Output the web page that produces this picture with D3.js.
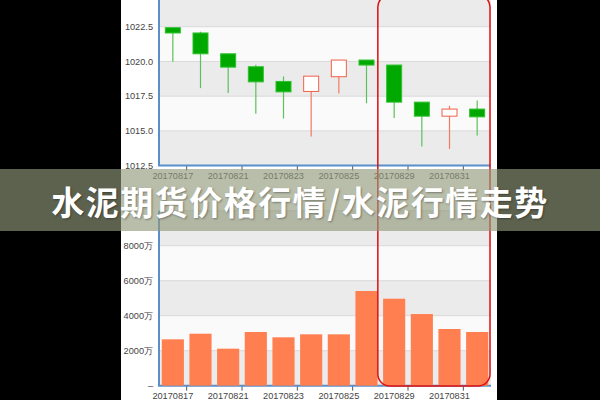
<!DOCTYPE html>
<html><head><meta charset="utf-8">
<script src="https://cdn.jsdelivr.net/npm/d3@7/dist/d3.min.js"></script>
<style>html,body{margin:0;padding:0;background:#000;}svg{display:block;}</style>
</head><body>
<svg id="c" width="600" height="400"></svg>
<script>
const dates = ["20170817","20170818","20170821","20170822","20170823","20170824","20170825","20170828","20170829","20170830","20170831","20170901"];
const opens  = [1022.43,1022.05,1020.55,1019.62,1018.56,1017.84,1018.90,1020.10,1019.74,1017.07,1016.06,1016.57];
const closes = [1022.05,1020.55,1019.59,1018.53,1017.81,1018.94,1020.10,1019.74,1017.07,1016.06,1016.57,1016.01];
const highs  = [1022.45,1022.14,1020.55,1019.76,1018.92,1018.94,1020.10,1020.10,1019.74,1017.07,1016.80,1017.19];
const lows   = [1019.98,1018.08,1017.72,1016.23,1015.89,1014.59,1017.69,1016.99,1015.92,1013.87,1013.70,1014.66];
const volumes = [2650,2970,2115,3070,2765,2935,2935,5410,4970,4095,3240,3070]; // 万
const priceTicks = [1012.5,1015.0,1017.5,1020.0,1022.5,1025.0];
const volTicks = [0,2000,4000,6000,8000,10000];
const title = "水泥期货价格行情/水泥行情走势";

const svg = d3.select("#c");
svg.append("rect").attr("width",600).attr("height",400).attr("fill","#000");
svg.append("rect").attr("x",121).attr("y",0).attr("width",376).attr("height",400).attr("fill","#fff");

const x = d3.scaleBand().domain(dates).range([159,491]).padding(0);
const yP = d3.scaleLinear().domain([1012.5,1025]).range([165.6,-8]);
const yV = d3.scaleLinear().domain([0,10000]).range([385.7,210.7]);
const font = "'Liberation Sans', Arial, sans-serif";

function panel(y, ticks, fmt, axisY) {
  const g = svg.append("g");
  for (let i = 0; i < ticks.length-1; i++) {
    g.append("rect").attr("x",159).attr("width",332)
      .attr("y",y(ticks[i+1])).attr("height",y(ticks[i])-y(ticks[i+1]))
      .attr("fill", i%2===0 ? "#ebebeb" : "#fafafa");
  }
  g.selectAll(".gl").data(ticks.slice(1)).join("line")
    .attr("x1",159).attr("x2",491).attr("y1",d=>y(d)).attr("y2",d=>y(d))
    .attr("stroke","#d9d9d9").attr("stroke-width",1);
  g.selectAll(".yl").data(ticks.slice(0,-1)).join("text")
    .attr("x",153).attr("y",d=>y(d)).attr("dy","0.35em")
    .attr("text-anchor","end").attr("font-family",font).attr("font-size",9.2).attr("fill","#444")
    .text(fmt);
  const ax = d3.axisBottom(x).tickSize(0).tickFormat((d,i)=> i%2===0 ? d : "");
  const axg = g.append("g").attr("transform",`translate(0,${axisY})`).call(ax);
  axg.select(".domain").remove();
  axg.selectAll("text").attr("font-family",font).attr("font-size",9.2).attr("fill","#444").attr("dy","1.1em");
  const tb = dates.filter((d,i)=>i%2===1).map(d=>x(d));
  g.selectAll(".tk").data(tb).join("line")
    .attr("x1",d=>d).attr("x2",d=>d).attr("y1",axisY).attr("y2",axisY+5)
    .attr("stroke","#555").attr("stroke-width",1);
  g.append("line").attr("x1",158).attr("x2",491).attr("y1",axisY).attr("y2",axisY).attr("stroke","#5b8fc9").attr("stroke-width",2);
  g.append("line").attr("x1",159).attr("x2",159).attr("y1",y(ticks[ticks.length-1])).attr("y2",axisY).attr("stroke","#5b8fc9").attr("stroke-width",2);
  return g;
}

panel(yP, priceTicks, d=>d.toFixed(1), 165.6);
panel(yV, volTicks, d=> d===0 ? "–" : d+"万", 385.7);

// candles
const cw = 15;
const cg = svg.append("g");
dates.forEach((d,i)=>{
  const cx = x(d) + x.bandwidth()/2;
  const up = closes[i] >= opens[i];
  cg.append("line").attr("x1",cx).attr("x2",cx).attr("y1",yP(highs[i])).attr("y2",yP(lows[i]))
    .attr("stroke", up ? "#f27a62" : "#5cc05c").attr("stroke-width",1.2);
  const top = yP(Math.max(opens[i],closes[i])), bot = yP(Math.min(opens[i],closes[i]));
  cg.append("rect").attr("x",cx-cw/2).attr("y",top).attr("width",cw).attr("height",Math.max(1,bot-top))
    .attr("fill", up ? "#fff" : "#00a800").attr("stroke", up ? "#f0604a" : "#2cc22c").attr("stroke-width",1);
});

// volume bars
svg.append("g").selectAll("rect").data(volumes).join("rect")
  .attr("x",(v,i)=>x(dates[i]) + x.bandwidth()*0.1)
  .attr("width",x.bandwidth()*0.8)
  .attr("y",v=>yV(v)).attr("height",v=>yV(0)-yV(v))
  .attr("fill","#ff7f50");

// red highlight rounded rectangle
svg.append("rect").attr("x",x(dates[8])-2.5).attr("y",-5)
  .attr("width",(x(dates[11])+x.bandwidth()) - (x(dates[8])-2.5) - 1).attr("height",391)
  .attr("rx",12).attr("ry",12)
  .attr("fill","none").attr("stroke","#dd1111").attr("stroke-width",1.5);

// banner
svg.append("rect").attr("x",0).attr("y",169).attr("width",600).attr("height",62)
  .attr("fill","rgb(146,153,124)").attr("fill-opacity",0.64);
svg.append("text").attr("x",300).attr("y",203).attr("dy","0.36em")
  .attr("text-anchor","middle")
  .attr("font-family","'Noto Sans CJK SC', sans-serif").attr("font-weight","bold")
  .attr("font-size",33).attr("letter-spacing","1.5px")
  .attr("fill","#fff")
  .style("text-shadow","1px 1px 2px rgba(0,0,0,0.35)")
  .text(title);
</script>
</body></html>
